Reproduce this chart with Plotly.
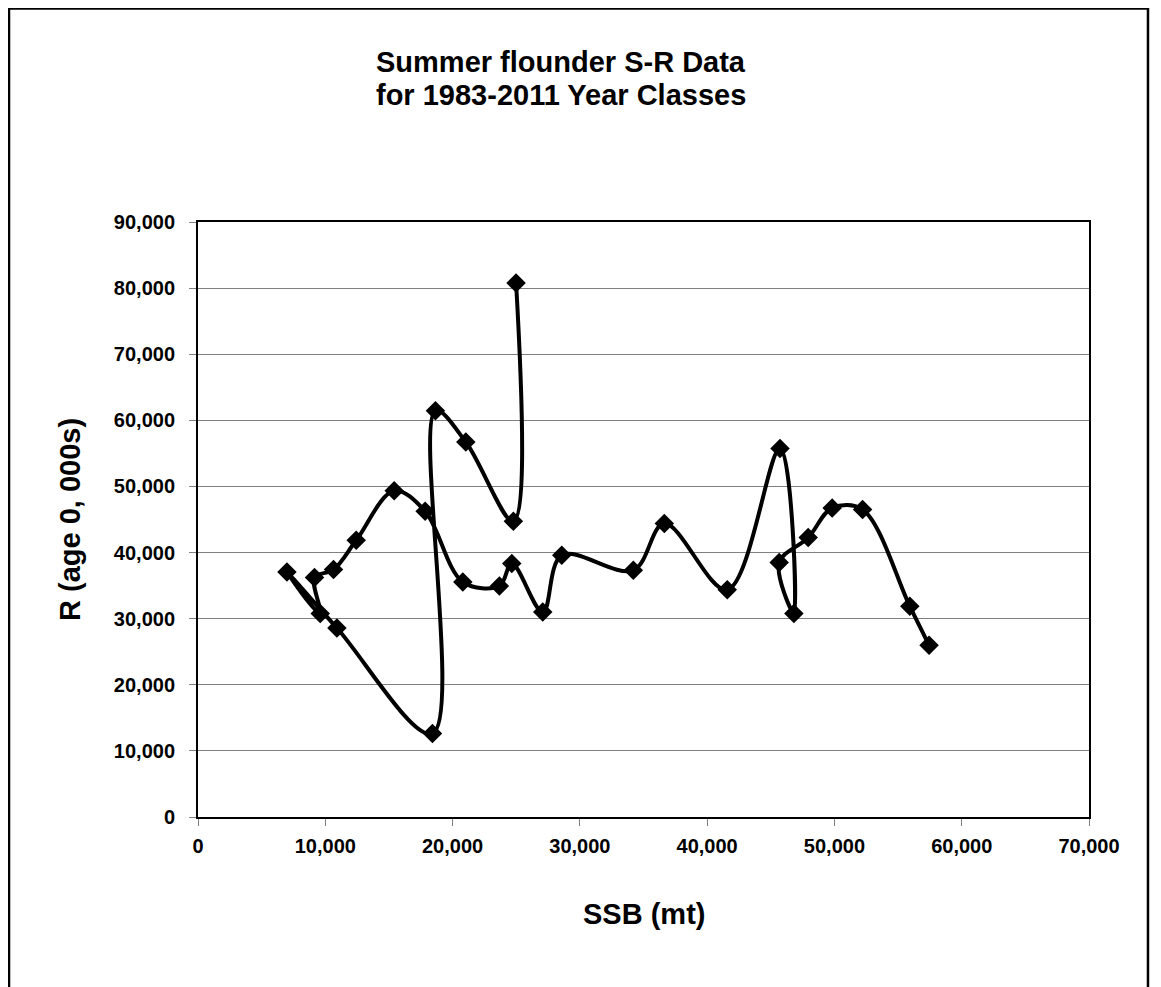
import plotly.graph_objects as go

# Year classes 1983-2011 (in time order)
year_class = list(range(1983, 2012))
ssb_mt = [24990, 24778, 21041, 18654, 18419, 10913, 6987, 9602, 9154, 10646,
          12428, 15412, 17845, 20806, 23679, 24652, 27086, 28578, 34199, 36633,
          41580, 45726, 46815, 45661, 47938, 49822, 52209, 55922, 57437]
recruits_000s = [80773, 44728, 56723, 61441, 12615, 28588, 37059, 30766, 36212, 37422,
                 41854, 49342, 46240, 35546, 34941, 38330, 31008, 39585, 37316, 44380,
                 34360, 55724, 30766, 38480, 42262, 46739, 46497, 31870, 25971]

title_lines = ["Summer flounder S-R Data", "for 1983-2011 Year Classes"]
x_title = "SSB (mt)"
y_title = "R (age 0, 000s)"

FONT = "Liberation Sans, Arial, sans-serif"

fig = go.Figure()
fig.add_trace(go.Scatter(
    x=ssb_mt, y=recruits_000s, text=[str(y) for y in year_class],
    mode="lines+markers",
    line=dict(color="black", width=4, shape="spline", smoothing=1.0),
    marker=dict(symbol="diamond", size=15, color="black"),
    showlegend=False,
))

axis_common = dict(
    showline=True, linecolor="black", linewidth=2, mirror=True,
    ticks="outside", ticklen=7, tickcolor="#808080", tickwidth=1,
    tickformat=",", dtick=10000, zeroline=False,
    tickfont=dict(family=FONT, size=20, color="black", weight="bold"),
)

title_font = dict(family=FONT, size=29, color="black", weight="bold")

fig.update_layout(
    width=1161, height=987,
    margin=dict(l=190, r=80, t=214, b=178),
    paper_bgcolor="white", plot_bgcolor="white",
    xaxis=dict(range=[0, 70000], showgrid=False, ticklabelstandoff=3, **axis_common),
    yaxis=dict(range=[0, 90000], showgrid=True, gridcolor="#808080", gridwidth=1,
               ticklabelstandoff=10, **axis_common),
    annotations=[
        dict(text=title_lines[0], xref="paper", yref="paper",
             x=0.4074, y=1.269, xanchor="center", yanchor="middle", showarrow=False,
             font=title_font),
        dict(text=title_lines[1], xref="paper", yref="paper",
             x=0.4074, y=1.2134, xanchor="center", yanchor="middle", showarrow=False,
             font=title_font),
        dict(text=x_title, xref="paper", yref="paper",
             x=0.5006, y=-0.163, xanchor="center", yanchor="middle", showarrow=False,
             font=title_font),
        dict(text=y_title, xref="paper", yref="paper",
             x=-0.1437, y=0.5008, xanchor="center", yanchor="middle", showarrow=False,
             textangle=-90, font=title_font),
    ],
    shapes=[
        dict(type="rect", xref="paper", yref="paper",
             x0=-0.2121, x1=1.0662, y0=-0.35, y1=1.359,
             line=dict(color="black", width=2.5), fillcolor="rgba(0,0,0,0)", layer="below"),
    ],
)

fig.write_html("out.html")
